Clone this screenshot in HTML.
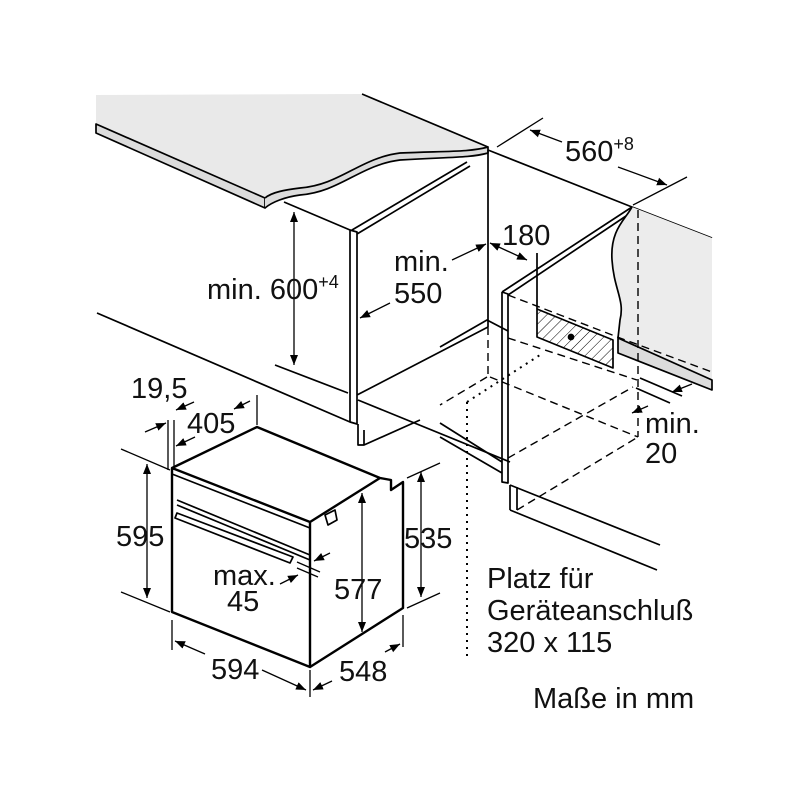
<!DOCTYPE html>
<html><head><meta charset="utf-8"><style>
html,body{margin:0;padding:0;background:#fff;}
svg{display:block}
text{font-family:"Liberation Sans",Arial,sans-serif;font-size:29px;fill:#111}
.s{font-size:18px}
</style></head><body>
<svg width="800" height="800" viewBox="0 0 800 800" xmlns="http://www.w3.org/2000/svg">
<defs>
<marker id="a" viewBox="0 0 10 10" refX="10" refY="5" markerWidth="10" markerHeight="10" orient="auto-start-reverse" markerUnits="userSpaceOnUse"><path d="M0,1 L10,5 L0,9 z" fill="#000"/></marker>
<pattern id="h" width="7" height="7" patternUnits="userSpaceOnUse" patternTransform="rotate(45)"><line x1="0" y1="0" x2="0" y2="7" stroke="#000" stroke-width="1"/></pattern>
</defs>
<g stroke="#000" stroke-width="1.7" fill="none" stroke-linejoin="round">
<path d="M96,95 L360,94 L488,147 C470,152 450,151 400,153 C360,158 340,185 300,188 C285,190 272,192 265,198 L96,124 Z" fill="#e9e9e9" stroke="none"/>
<path d="M362,94 L488,147" />
<path d="M96,124 L265,198 L265,208 L96,133 Z" fill="#dcdcdc"/>
<path d="M265,198 C272,192 285,190 300,188 C340,185 360,158 400,153 C450,151 470,152 488,147 L488,153 C470,158 450,157 400,160 C360,165 340,192 300,195 C285,197 272,202 265,208" fill="#dcdcdc"/>
<path d="M284,202 L350,230 M350,230 L350,422 L357,424 L357,232 L350,230 M352,230 L467,162 M357,234 L470,166 M488,150 L488,327 M357,395 L488,327 M97,313 L350,422 M275,365 L348,393 M358,400 L510,462"/>
<path d="M358,424 L358,445 L364,445 L364,430 M364,445 L420,420"/>
<path d="M440,347 L487,320 L508,331"/>
<path d="M502,292 L502,482 L508,483 L508,294 L502,292 M502,292 L632,207 M508,295 L632,212 M488,150 L632,207 L712,238 M510,485 L510,510 M517,487 L517,510 M510,485 L660,545 M510,510 L657,570 M440,423 L502,462 M440,437 L502,473"/>
<path d="M632,207 C625,220 610,230 612,260 C614,290 625,300 620,320 L618,338 L618,353 L712,390 L712,238 Z" fill="#ececec" stroke="none"/>
<path d="M632,207 C625,220 610,230 612,260 C614,290 625,300 620,320 L618,338"/>
<path d="M618,338 L618,353 L712,390 L712,380 Z" fill="#dcdcdc"/>
<path d="M537,309 L613,340 L613,368 L537,337 Z" fill="url(#h)"/>
<circle cx="571" cy="337" r="2.5" fill="#000"/>
<line x1="537" y1="309" x2="537" y2="253"/>
<g stroke-dasharray="8,5" stroke-width="1.4">
<path d="M508,295 L620,338 L712,372 M508,338 L637,380 M638,210 L638,437 M490,377 L638,437 M487,377 L440,405 M508,458 L633,387 M517,510 L638,437 M488,327 L488,377"/>
</g>
<g stroke-dasharray="2,5" stroke-width="2">
<path d="M467,402 L467,660 M467,402 L540,355"/>
</g>
<path d="M640,378 L682,396 M636,388 L670,403"/>
<g stroke-width="2.4">
<path d="M172,468 L257,427 L380,478 L310,522 Z M172,468 L172,612 L310,667 L310,522 M310,667 L403,608 L403,482 L391,490 L391,480 L380,478"/>
</g>
<path d="M177,500 L310,555 M177,505 L310,560"/>
<path d="M177,513 L293,557 L290,563 L175,518 Z"/>
<path d="M172,468 L310,522 L310,528 L172,474"/>
<path d="M325,515 L335,510 L337,520 L328,525 Z"/>
</g>
<g stroke="#000" stroke-width="1.3" fill="none">
<path d="M294,212 L294,365" marker-start="url(#a)" marker-end="url(#a)"/>
<path d="M390,303 L360,318" marker-end="url(#a)"/>
<path d="M452,260 L486,244" marker-end="url(#a)"/>
<path d="M490,243 L527,260" marker-start="url(#a)" marker-end="url(#a)"/>
<path d="M497,147 L543,118 M633,205 L687,177"/>
<path d="M530,130 L562,142" marker-start="url(#a)"/>
<path d="M618,167 L667,185" marker-end="url(#a)"/>
<path d="M692,384 L672,392" marker-end="url(#a)"/>
<path d="M648,406 L632,413" marker-end="url(#a)"/>
<path d="M168,420 L168,470 M174,420 L174,470 M257,395 L257,425"/>
<path d="M145,432 L166,423" marker-end="url(#a)"/>
<path d="M194,402 L176,410" marker-end="url(#a)"/>
<path d="M250,401 L234,409" marker-end="url(#a)"/>
<path d="M195,437 L176,446" marker-end="url(#a)"/>
<path d="M121,449 L170,470 M121,592 L170,612"/>
<path d="M147,464 L147,598" marker-start="url(#a)" marker-end="url(#a)"/>
<path d="M407,478 L440,463 M407,608 L440,593"/>
<path d="M421,472 L421,597" marker-start="url(#a)" marker-end="url(#a)"/>
<path d="M362,493 L362,632" marker-start="url(#a)" marker-end="url(#a)"/>
<path d="M172,620 L172,650 M310,670 L310,697 M403,615 L403,647"/>
<path d="M175,641 L205,654" marker-start="url(#a)"/>
<path d="M262,670 L306,690" marker-end="url(#a)"/>
<path d="M313,690 L332,681" marker-start="url(#a)"/>
<path d="M385,652 L400,644" marker-end="url(#a)"/>
<path d="M330,553 L314,561" marker-end="url(#a)"/>
<path d="M280,584 L298,575" marker-end="url(#a)"/>
<path d="M297,562 L320,572 M297,568 L318,577"/>
</g>
<text x="565" y="161">560<tspan class="s" dy="-11">+8</tspan></text>
<text x="502" y="245">180</text>
<text x="207" y="299">min. 600<tspan class="s" dy="-11">+4</tspan></text>
<text x="394" y="271">min.</text>
<text x="394" y="303">550</text>
<text x="131" y="398">19,5</text>
<text x="187" y="433">405</text>
<text x="116" y="546">595</text>
<text x="404" y="548">535</text>
<text x="334" y="599">577</text>
<text x="213" y="585">max.</text>
<text x="227" y="611">45</text>
<text x="211" y="679">594</text>
<text x="339" y="681">548</text>
<text x="645" y="433">min.</text>
<text x="645" y="463">20</text>
<text x="487" y="588">Platz für</text>
<text x="487" y="620">Geräteanschluß</text>
<text x="487" y="652">320 x 115</text>
<text x="533" y="708">Maße in mm</text>
</svg>
</body></html>
